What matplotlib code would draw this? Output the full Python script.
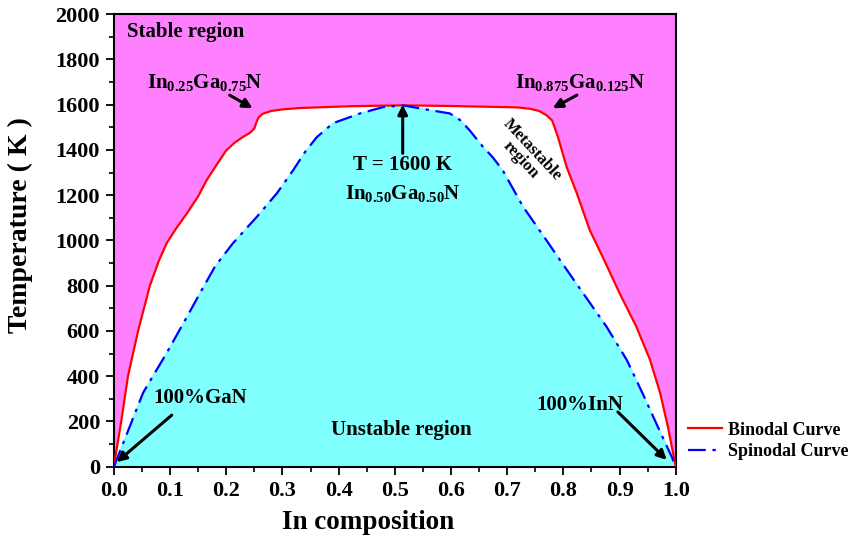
import matplotlib
matplotlib.use("Agg")
import matplotlib.pyplot as plt
from matplotlib.ticker import MultipleLocator, FormatStrFormatter

plt.rcParams["font.family"] = ["Liberation Serif", "DejaVu Serif"]
plt.rcParams["font.weight"] = "bold"
plt.rcParams["mathtext.fontset"] = "custom"
plt.rcParams["mathtext.rm"] = "Liberation Serif:bold"
plt.rcParams["mathtext.it"] = "Liberation Serif:bold"
plt.rcParams["mathtext.bf"] = "Liberation Serif:bold"

# binodal curve (In composition, temperature in K)
binodal_x = [0.0, 0.005, 0.013, 0.025, 0.043, 0.064, 0.08, 0.094, 0.11, 0.13, 0.15, 0.165,
             0.183, 0.2, 0.215, 0.23, 0.242, 0.25, 0.254, 0.258, 0.265, 0.28, 0.30, 0.33,
             0.42, 0.514, 0.6, 0.717, 0.74, 0.757, 0.77, 0.78, 0.79, 0.806, 0.824, 0.847,
             0.87, 0.9, 0.93, 0.954, 0.972, 0.986, 1.0]
binodal_T = [0, 80, 200, 400, 600, 800, 910, 988, 1050, 1120, 1195, 1266,
             1335, 1398, 1432, 1458, 1475, 1495, 1525, 1545, 1560, 1572, 1579, 1585,
             1593, 1597, 1594, 1588, 1582, 1572, 1553, 1530, 1460, 1323, 1208, 1045,
             927, 767, 618, 474, 328, 177, 0]

# spinodal curve
spinodal_x = [0.0, 0.052, 0.094, 0.13, 0.153, 0.18, 0.212, 0.254, 0.29, 0.319, 0.34,
              0.361, 0.39, 0.438, 0.479, 0.514, 0.562, 0.598, 0.616, 0.633, 0.657,
              0.674, 0.692, 0.728, 0.77, 0.794, 0.835, 0.877, 0.913, 0.941, 0.968,
              0.993, 1.0]
spinodal_T = [0, 327, 503, 662, 766, 885, 988, 1103, 1208, 1310, 1390,
              1456, 1518, 1561, 1589, 1597, 1576, 1561, 1532, 1487, 1413,
              1368, 1310, 1150, 1000, 913, 767, 618, 471, 324, 177,
              43, 0]

magenta = "#ff80ff"
cyan = "#80ffff"

fig = plt.figure(figsize=(8.5, 5.43), dpi=100)
ax = fig.add_axes([0.134, 0.1405, 0.661, 0.8335])
ax.set_facecolor(magenta)

ax.fill(binodal_x, binodal_T, color="white", zorder=1)
ax.fill(spinodal_x, spinodal_T, color=cyan, zorder=2)
ax.plot(binodal_x, binodal_T, color="#ff0000", lw=1.6, label="Binodal Curve", zorder=3)
ax.plot(spinodal_x, spinodal_T, color="#0000ff", lw=1.6, linestyle=(0, (8, 3, 1.5, 3)),
        label="Spinodal Curve", zorder=3)

ax.set_xlim(0, 1.0)
ax.set_ylim(0, 2000)
ax.xaxis.set_major_locator(MultipleLocator(0.1))
ax.xaxis.set_minor_locator(MultipleLocator(0.05))
ax.yaxis.set_major_locator(MultipleLocator(200))
ax.yaxis.set_minor_locator(MultipleLocator(100))
ax.tick_params(which="major", direction="out", length=6, width=1.3, labelsize=16, pad=4)
ax.tick_params(which="minor", direction="out", length=3.5, width=1.2)
for s in ax.spines.values():
    s.set_linewidth(1.5)
ax.xaxis.set_major_formatter(FormatStrFormatter("%.1f"))

ax.set_xlabel("In composition", fontsize=19.5, fontweight="bold")
ax.set_ylabel("Temperature ( K )", fontsize=20, fontweight="bold")
ax.xaxis.set_label_coords(0.452, -0.095)
ax.yaxis.set_label_coords(-0.144, 0.534)

txt = dict(fontweight="bold", color="black", zorder=5)
ax.text(0.023, 1920, "Stable region", fontsize=15, ha="left", va="center", **txt)
ax.text(0.162, 1699, r"In$_{0.25}$Ga$_{0.75}$N", fontsize=15, ha="center", va="center", **txt)
ax.text(0.829, 1699, r"In$_{0.875}$Ga$_{0.125}$N", fontsize=15, ha="center", va="center", **txt)
ax.text(0.514, 1332, "T = 1600 K", fontsize=15, ha="center", va="center", **txt)
ax.text(0.514, 1208, r"In$_{0.50}$Ga$_{0.50}$N", fontsize=15, ha="center", va="center", **txt)
ax.text(0.153, 303, "100%GaN", fontsize=15, ha="center", va="center", **txt)
ax.text(0.829, 272, "100%InN", fontsize=15, ha="center", va="center", **txt)
ax.text(0.512, 162, "Unstable region", fontsize=15, ha="center", va="center", **txt)
ax.text(0.735, 1378, "Metastable\nregion", fontsize=12, ha="center", va="center",
        rotation=-47, linespacing=1.0, **txt)

arrow = dict(arrowstyle="-|>", color="black", lw=2.2, mutation_scale=14, shrinkA=0, shrinkB=0)
ax.annotate("", xy=(0.247, 1584), xytext=(0.206, 1642), arrowprops=arrow, zorder=5)
ax.annotate("", xy=(0.781, 1584), xytext=(0.824, 1642), arrowprops=arrow, zorder=5)
ax.annotate("", xy=(0.514, 1600), xytext=(0.514, 1385), arrowprops=arrow, zorder=5)
ax.annotate("", xy=(0.005, 20), xytext=(0.103, 228), arrowprops=arrow, zorder=5)
ax.annotate("", xy=(0.984, 30), xytext=(0.897, 242), arrowprops=arrow, zorder=5)

fig.legend(loc="center left", bbox_to_anchor=(0.809, 0.188), frameon=False,
           fontsize=13, handlelength=1.9, handletextpad=0.35, labelspacing=0.25,
           borderaxespad=0, borderpad=0)

fig.savefig("out.png", dpi=100)
